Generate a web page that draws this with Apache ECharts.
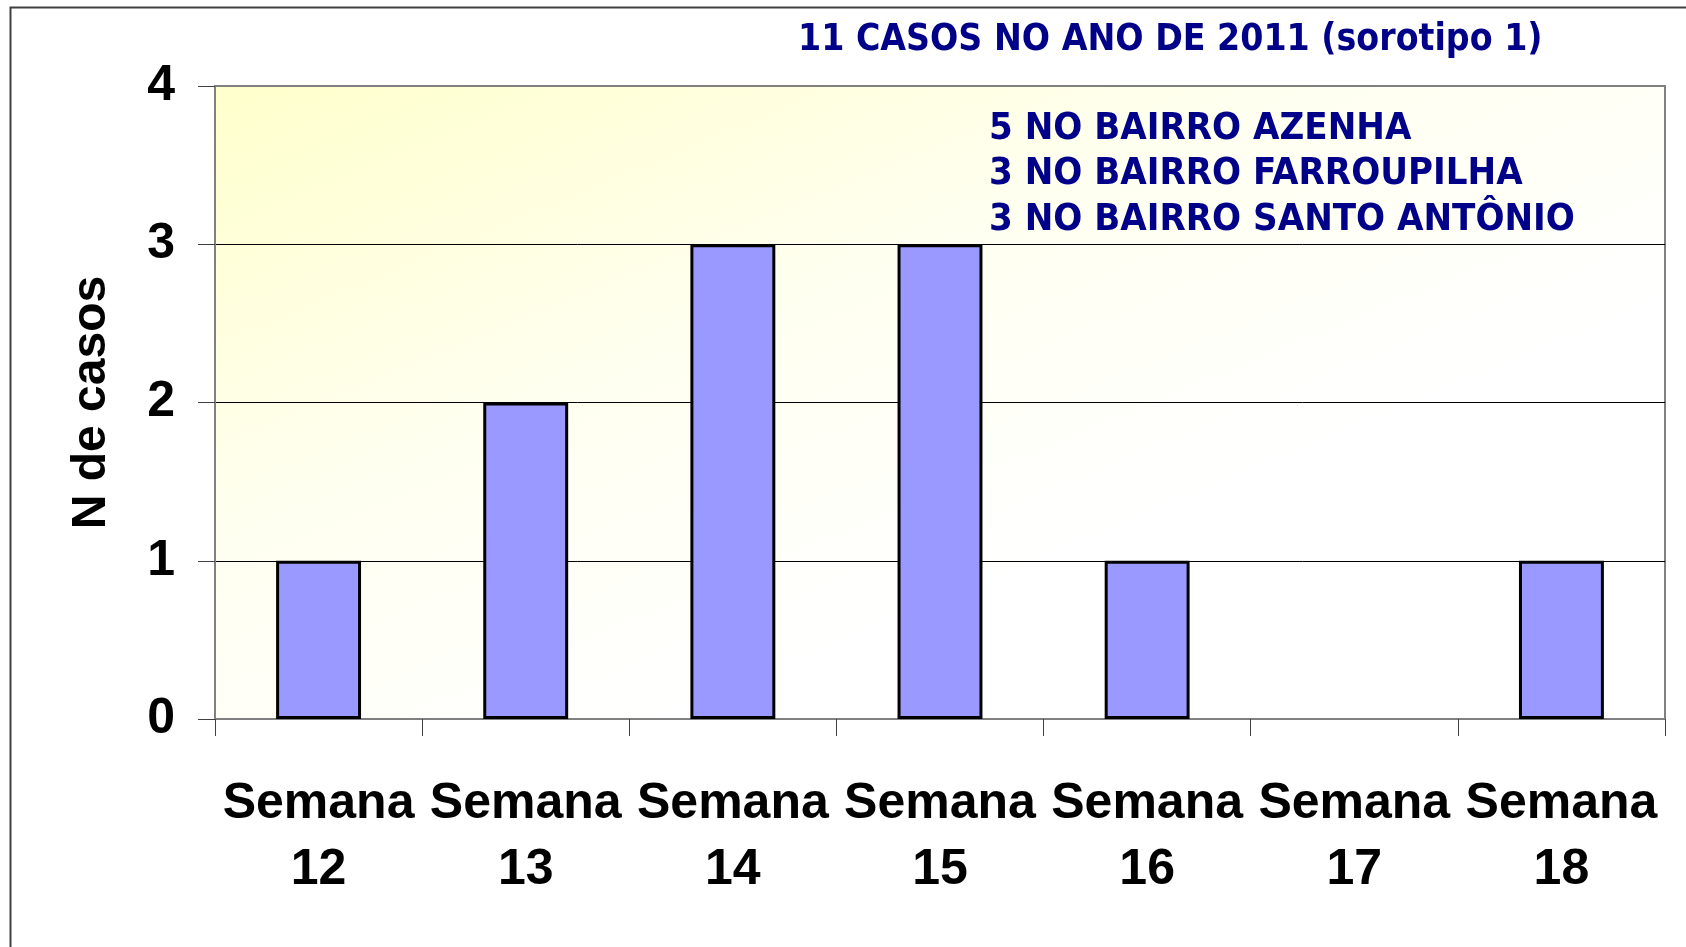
<!DOCTYPE html>
<html>
<head>
<meta charset="utf-8">
<title>Casos por semana</title>
<script src="https://cdn.jsdelivr.net/npm/echarts@6/dist/echarts.min.js"></script>
<style>
html, body { margin: 0; padding: 0; background: #fff; }
#chartmain { width: 1686px; height: 947px; }
</style>
</head>
<body>
<div id="chartmain"></div>
<script>
// semanas epidemiologicas
var weeks = [12, 13, 14, 15, 16, 17, 18];
// numero de casos por semana
var cases = [1, 2, 3, 3, 1, 0, 1];
var yTicks = { min: 0, max: 4, interval: 1 };
var titleText = '11 CASOS NO ANO DE 2011 (sorotipo 1)';
var bairros = ['5 NO BAIRRO AZENHA', '3 NO BAIRRO FARROUPILHA', '3 NO BAIRRO SANTO ANTÔNIO'];

var labelFont = 'Liberation Sans, Arial, sans-serif';
var noteFont = 'DejaVu Sans Condensed, DejaVu Sans, sans-serif';

var option = {
  backgroundColor: '#ffffff',
  animation: false,
  title: [
    {
      text: titleText,
      left: 793, top: 17,
      textStyle: { color: '#000088', fontFamily: noteFont, fontWeight: 'bold', fontSize: 37 }
    },
    {
      text: bairros.join('\n'),
      left: 984, top: 101,
      textStyle: { color: '#000088', fontFamily: noteFont, fontWeight: 'bold', fontSize: 38, lineHeight: 45.5 }
    }
  ],
  graphic: [
    { type: 'rect', left: 8, top: 5, shape: { width: 1720, height: 990 },
      style: { fill: 'none', stroke: '#404040', lineWidth: 2 }, silent: true }
  ],
  grid: {
    left: 215, right: 21, top: 86, bottom: 228,
    show: true,
    borderColor: '#808080', borderWidth: 2,
    backgroundColor: {
      type: 'linear', x: 0, y: 0, x2: 0.2, y2: 1.1,
      colorStops: [
        { offset: 0, color: '#ffffcc' },
        { offset: 0.55, color: '#fffff0' },
        { offset: 1, color: '#ffffff' }
      ]
    }
  },
  xAxis: {
    type: 'category',
    data: weeks,
    axisLine: { lineStyle: { color: '#808080', width: 2 } },
    axisTick: { show: true, interval: 0, length: 17, lineStyle: { color: '#404040', width: 1 } },
    axisLabel: {
      interval: 0,
      formatter: function (v) { return 'Semana\n' + v; },
      color: '#000', fontFamily: labelFont, fontWeight: 'bold', fontSize: 50,
      lineHeight: 66, margin: 52
    }
  },
  yAxis: {
    type: 'value',
    min: yTicks.min, max: yTicks.max, interval: yTicks.interval,
    name: 'N de casos',
    nameLocation: 'middle',
    nameGap: 99,
    nameTextStyle: { color: '#000', fontFamily: labelFont, fontWeight: 'bold', fontSize: 48 },
    axisLine: { show: true, lineStyle: { color: '#808080', width: 2 } },
    axisTick: { show: true, length: 17, lineStyle: { color: '#404040', width: 1 } },
    axisLabel: { color: '#000', fontFamily: labelFont, fontWeight: 'bold', fontSize: 50, margin: 40 },
    splitLine: { show: true, showMinLine: false, showMaxLine: false, lineStyle: { color: '#000', width: 1 } }
  },
  series: [
    {
      name: 'Casos',
      type: 'bar',
      barWidth: '41%',
      data: cases.map(function (v) {
        return v === 0 ? { value: v, itemStyle: { borderWidth: 0 } } : v;
      }),
      itemStyle: { color: '#9999ff', borderColor: '#000', borderWidth: 3 }
    }
  ]
};

var chartmain = echarts.init(document.getElementById('chartmain'));
chartmain.setOption(option);
</script>
</body>
</html>
